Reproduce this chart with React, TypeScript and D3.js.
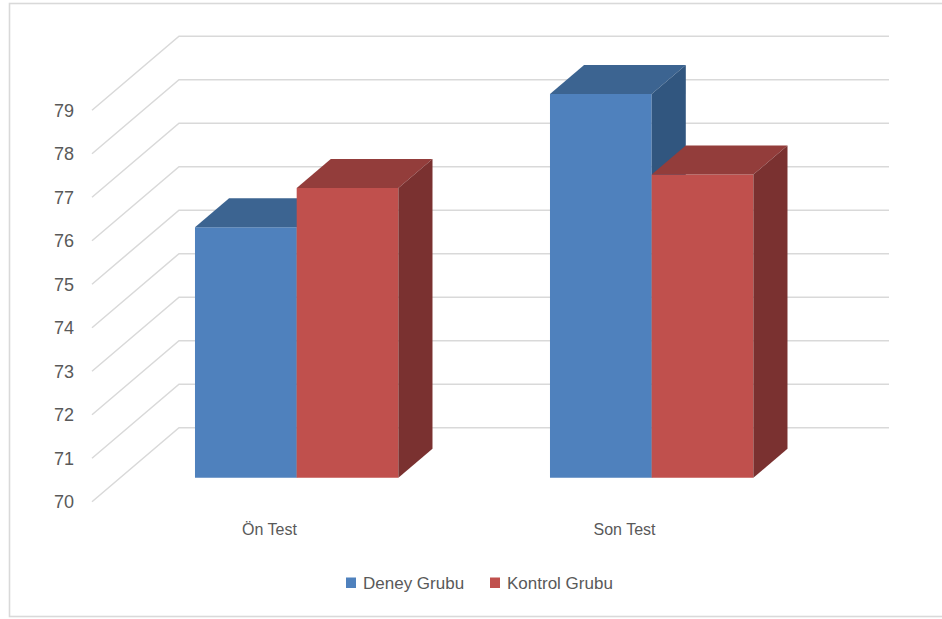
import React from "react";
import * as d3 from "d3";

// Chart data
const categories = ["Ön Test", "Son Test"];
const seriesNames = ["Deney Grubu", "Kontrol Grubu"];
const deneyValues = [75.76, 78.82];
const kontrolValues = [76.66, 76.97];
const yTicks = [70, 71, 72, 73, 74, 75, 76, 77, 78, 79];

const W = 942;
const H = 619;

// Oblique 3D projection: full depth of the plot box moves a point by (DX, DY)
const DX = 87;
const DY = -74;
const Z_FRONT = 0.324; // bar front plane (fraction of depth)
const Z_BACK = 0.716; // bar back plane

const faceColors = [
  { front: "#4F81BD", top: "#3C6491", side: "#31567F" },
  { front: "#C0504D", top: "#933D3B", side: "#7A3130" },
];

const textColor = "#595959";
const gridColor = "#D9D9D9";
const font = "'Liberation Sans', Arial, sans-serif";

export default function App() {
  const y = d3.scaleLinear().domain([70, 79]).range([501.7, 110.2]);
  const x = d3.scaleBand<string>().domain(categories).range([92, 802]).padding(0);
  const groupWidth = 203.4;
  const x1 = d3.scaleBand<string>().domain(seriesNames).range([0, groupWidth]).padding(0);

  const proj = (px: number, v: number, z: number): [number, number] => [px + z * DX, y(v) + z * DY];
  const poly = (pts: [number, number][]) => pts.map((p) => p.join(",")).join(" ");

  const series = [deneyValues, kontrolValues];
  const floorV = y.domain()[0];

  // bars, drawn left to right so nearer faces overlap correctly
  const bars: React.ReactNode[] = [];
  categories.forEach((cat, ci) => {
    const gx = (x(cat) as number) + (x.bandwidth() - groupWidth) / 2 - 1;
    seriesNames.forEach((s, si) => {
      const v = series[si][ci];
      const x0 = gx + (x1(s) as number);
      const xr = x0 + x1.bandwidth();
      const c = faceColors[si];
      const fTL = proj(x0, v, Z_FRONT);
      const fTR = proj(xr, v, Z_FRONT);
      const fBR = proj(xr, floorV, Z_FRONT);
      const fBL = proj(x0, floorV, Z_FRONT);
      const bTL = proj(x0, v, Z_BACK);
      const bTR = proj(xr, v, Z_BACK);
      const bBR = proj(xr, floorV, Z_BACK);
      bars.push(
        <g key={`${cat}-${s}`}>
          <polygon points={poly([fTL, fTR, fBR, fBL])} fill={c.front} />
          <polygon points={poly([fTL, bTL, bTR, fTR])} fill={c.top} />
          <polygon points={poly([fTR, bTR, bBR, fBR])} fill={c.side} />
        </g>
      );
    });
  });

  const [xl, xr] = x.range();

  return (
    <svg
      width={W}
      height={H}
      style={{ position: "absolute", left: 0, top: 0, background: "#fff" }}
      fontFamily={font}
    >
      <rect x={0} y={0} width={W} height={H} fill="#fff" />
      <rect x={9.5} y={3.5} width={W + 10} height={613} fill="none" stroke={gridColor} strokeWidth={1.6} />

      {/* side-wall diagonals and back-wall gridlines */}
      {yTicks.map((t) => {
        const a = proj(xl, t, 0);
        const b = proj(xl, t, 1);
        const c = proj(xr, t, 1);
        return (
          <polyline
            key={t}
            points={poly([a, b, c])}
            fill="none"
            stroke={gridColor}
            strokeWidth={1.5}
          />
        );
      })}

      {/* value axis labels */}
      {yTicks.map((t) => (
        <text
          key={`l${t}`}
          x={74}
          y={y(t)}
          dy="0.36em"
          textAnchor="end"
          fontSize={18}
          fill={textColor}
        >
          {t}
        </text>
      ))}

      {bars}

      {/* category labels */}
      {categories.map((c) => (
        <text
          key={c}
          x={(x(c) as number) + x.bandwidth() / 2}
          y={535}
          textAnchor="middle"
          fontSize={16}
          fill={textColor}
        >
          {c}
        </text>
      ))}

      {/* legend */}
      {seriesNames.map((s, i) => {
        const lx = [346, 490][i];
        return (
          <g key={s}>
            <rect x={lx} y={577.5} width={10} height={10.5} fill={faceColors[i].front} />
            <text x={lx + 17} y={589} fontSize={17} fill={textColor}>
              {s}
            </text>
          </g>
        );
      })}
    </svg>
  );
}
